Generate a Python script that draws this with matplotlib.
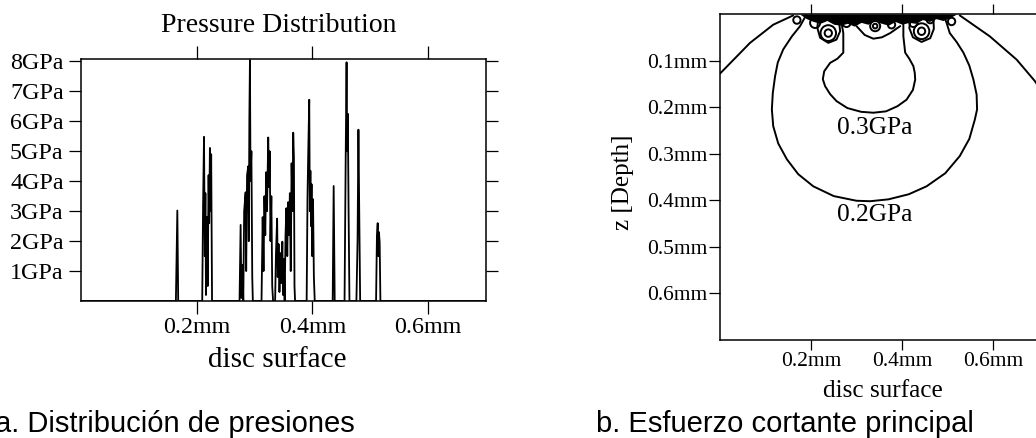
import matplotlib
matplotlib.use("Agg")
import matplotlib.pyplot as plt
from matplotlib.patches import Ellipse

# --- pressure profile along the disc surface (mm, GPa) ---
surf_x = [0.000, 0.164, 0.1665, 0.168,
          0.2095, 0.2110, 0.2126, 0.2140, 0.2150, 0.2160, 0.2175, 0.2190, 0.2205,
          0.2215, 0.2228, 0.2240, 0.2250, 0.2265,
          0.2740, 0.2759, 0.2772, 0.2790, 0.2805, 0.2820, 0.2845, 0.2855, 0.2870,
          0.2891, 0.2900, 0.2910, 0.2920, 0.2930, 0.2945, 0.2960, 0.2970,
          0.3120, 0.3140, 0.3155, 0.3170, 0.3185, 0.3200, 0.3215, 0.3236, 0.3250,
          0.3262, 0.3275, 0.3290, 0.3305, 0.3320,
          0.3355, 0.3370, 0.3390, 0.3400, 0.3415, 0.3430, 0.3448, 0.3465, 0.3480,
          0.3492, 0.3505, 0.3520, 0.3535, 0.3550, 0.3565, 0.3580, 0.3595, 0.3610,
          0.3625, 0.3640, 0.3655, 0.3668, 0.3680, 0.3690, 0.3700,
          0.3900, 0.3915, 0.3930, 0.3945, 0.3955, 0.3965, 0.3975, 0.3985, 0.3995,
          0.4010, 0.4025, 0.4040,
          0.4350, 0.4367, 0.4385,
          0.4555, 0.4575, 0.4590, 0.4600, 0.4612, 0.4625, 0.4640,
          0.4760, 0.4780, 0.4795, 0.4810, 0.4825,
          0.5100, 0.5115, 0.5128, 0.5140, 0.5150, 0.5162, 0.5175, 0.700]
pressure = [0.0, 0.0, 3.02, 0.0,
            0.0, 3.2, 5.48, 1.5, 3.6, 0.2, 2.8, 0.5, 4.2,
            2.6, 5.11, 3.0, 4.9, 0.0,
            0.0, 2.54, 0.1, 1.2, 0.0, 3.0, 3.63, 1.0, 4.2,
            4.5, 2.0, 6.1, 8.05, 4.0, 5.0, 0.8, 0.0,
            0.0, 2.8, 1.0, 3.5, 2.2, 4.3, 3.0, 5.46, 3.8,
            5.0, 2.0, 3.5, 0.5, 0.0,
            0.0, 1.6, 2.75, 0.8, 1.9, 0.3, 1.6, 0.6, 1.98,
            0.2, 1.4, 0.0, 2.2, 3.1, 1.5, 3.3, 2.2, 3.6,
            1.0, 4.6, 3.0, 5.62, 4.8, 0.5, 0.0,
            0.0, 3.5, 5.2, 6.72, 3.0, 4.35, 2.5, 3.9, 1.5,
            3.4, 0.8, 0.0,
            0.0, 3.84, 0.0,
            0.0, 4.8, 7.97, 5.0, 6.25, 3.0, 0.0,
            0.0, 2.0, 5.72, 2.8, 0.0,
            0.0, 2.2, 2.6, 1.5, 2.3, 1.95, 0.0, 0.0]

p_ticks = [1, 2, 3, 4, 5, 6, 7, 8]
p_labels = ["1GPa", "2GPa", "3GPa", "4GPa", "5GPa", "6GPa", "7GPa", "8GPa"]
x_ticks = [0.2, 0.4, 0.6]
x_labels = ["0.2mm", "0.4mm", "0.6mm"]
z_ticks = [0.1, 0.2, 0.3, 0.4, 0.5, 0.6]
z_labels = ["0.1mm", "0.2mm", "0.3mm", "0.4mm", "0.5mm", "0.6mm"]

# --- principal shear stress contours (x mm, depth mm) ---
outer_left_x = [0.000, 0.066, 0.117, 0.161]
outer_left_z = [0.128, 0.062, 0.023, 0.003]
outer_right_x = [0.527, 0.593, 0.652, 0.692, 0.730]
outer_right_z = [0.003, 0.048, 0.098, 0.144, 0.200]

c02_x = [0.189, 0.176, 0.158, 0.139, 0.127, 0.121, 0.116, 0.114, 0.117, 0.128,
         0.147, 0.172, 0.205, 0.250, 0.300, 0.330, 0.370, 0.415, 0.454, 0.495,
         0.527, 0.548, 0.560, 0.565, 0.564, 0.557, 0.548, 0.535, 0.520, 0.505,
         0.498, 0.492]
c02_z = [0.003, 0.026, 0.048, 0.076, 0.104, 0.134, 0.170, 0.205, 0.241, 0.278,
         0.312, 0.344, 0.370, 0.391, 0.401, 0.402, 0.398, 0.387, 0.370, 0.342,
         0.305, 0.268, 0.227, 0.205, 0.173, 0.141, 0.111, 0.083, 0.060, 0.041,
         0.019, 0.003]

c03_x = [0.267, 0.271, 0.271, 0.258, 0.242, 0.229, 0.226, 0.231, 0.242, 0.256,
         0.280, 0.310, 0.337, 0.365, 0.390, 0.410, 0.424, 0.429, 0.428, 0.425,
         0.416, 0.407, 0.403, 0.403]
c03_z = [0.019, 0.041, 0.083, 0.096, 0.105, 0.123, 0.140, 0.155, 0.172, 0.187,
         0.202, 0.210, 0.212, 0.209, 0.198, 0.184, 0.163, 0.141, 0.126, 0.112,
         0.096, 0.083, 0.048, 0.023]

dip_x = [0.300, 0.318, 0.337, 0.356, 0.374, 0.396]
dip_z = [0.026, 0.045, 0.053, 0.050, 0.041, 0.026]

hookl_x = [0.216, 0.214, 0.220, 0.238, 0.256, 0.264, 0.262]
hookl_z = [0.008, 0.030, 0.051, 0.062, 0.055, 0.037, 0.019]
hookr_x = [0.420, 0.416, 0.424, 0.443, 0.462, 0.470, 0.469]
hookr_z = [0.006, 0.030, 0.050, 0.060, 0.052, 0.032, 0.010]

band_x = [0.175, 0.190, 0.205, 0.220, 0.235, 0.250, 0.265, 0.280, 0.295, 0.310,
          0.325, 0.340, 0.355, 0.370, 0.385, 0.400, 0.415, 0.430, 0.445, 0.460,
          0.475, 0.490, 0.505, 0.520]
band_z = [0.000, 0.010, 0.016, 0.020, 0.014, 0.022, 0.024, 0.020, 0.026, 0.018,
          0.022, 0.014, 0.020, 0.024, 0.016, 0.022, 0.018, 0.020, 0.012, 0.016,
          0.010, 0.014, 0.008, 0.000]

loop_x = [0.238, 0.238, 0.443, 0.443, 0.209, 0.169, 0.341, 0.341, 0.377, 0.509,
          0.278, 0.425, 0.462]
loop_z = [0.041, 0.041, 0.037, 0.037, 0.019, 0.013, 0.026, 0.026, 0.023, 0.016,
          0.019, 0.019, 0.012]
loop_r = [0.017, 0.008, 0.017, 0.008, 0.011, 0.008, 0.011, 0.005, 0.008, 0.008,
          0.009, 0.009, 0.008]

serif = "Liberation Serif"
W, H = 1036, 438
fig = plt.figure(figsize=(W / 100, H / 100), dpi=100)


def fx(px):
    return px / W


def fy(py):
    return 1 - py / H


# --- a. pressure distribution ---
ax1 = fig.add_axes([fx(81), fy(301), fx(486) - fx(81), fy(59) - fy(301)])
ax1.plot(surf_x, pressure, color="black", lw=1.3)
ax1.set_xlim(0, 0.7)
ax1.set_ylim(0, 8.08)
ax1.set_xticks(x_ticks)
ax1.set_xticklabels(x_labels, family=serif, fontsize=17.3)
ax1.set_yticks(p_ticks)
ax1.set_yticklabels(p_labels, family=serif, fontsize=17.3)
ax1.tick_params(axis="x", direction="out", length=9.5, width=0.9, top=True,
                labeltop=False, pad=2)
ax1.tick_params(axis="y", direction="out", length=8.5, width=0.9, right=True,
                labelright=False, pad=4)
for s in ax1.spines.values():
    s.set_linewidth(1.1)
fig.text(fx(279), fy(32), "Pressure Distribution", family=serif, fontsize=20,
         ha="center", va="baseline")
fig.text(fx(277), fy(366.7), "disc surface", family=serif, fontsize=21,
         ha="center", va="baseline")

# --- b. principal shear stress ---
ax2 = fig.add_axes([fx(720), fy(340), fx(1038.5) - fx(720), fy(14) - fy(340)])
ax2.set_xlim(0, 0.7)
ax2.set_ylim(0.7, 0)
ax2.fill_between(band_x, 0, band_z, color="black", lw=0)
lines = [(outer_left_x, outer_left_z), (outer_right_x, outer_right_z),
         (c02_x, c02_z), (c03_x, c03_z), (dip_x, dip_z),
         (hookl_x, hookl_z), (hookr_x, hookr_z)]
for xs, zs in lines:
    ax2.plot(xs, zs, color="black", lw=1.4, solid_capstyle="round",
             solid_joinstyle="round")
for cx, cz, r in zip(loop_x, loop_z, loop_r):
    ax2.add_patch(Ellipse((cx, cz), 2 * r, 2 * r, fill=False, ec="black", lw=1.4))
ax2.text(0.341, 0.244, "0.3GPa", family=serif, fontsize=18.4, ha="center", va="center")
ax2.text(0.341, 0.432, "0.2GPa", family=serif, fontsize=18.4, ha="center", va="center")
ax2.set_xticks(x_ticks)
ax2.set_xticklabels(x_labels, family=serif, fontsize=15.5)
ax2.set_yticks(z_ticks)
ax2.set_yticklabels(z_labels, family=serif, fontsize=15.5)
ax2.tick_params(axis="x", direction="out", length=7, width=0.9, top=True,
                labeltop=False, pad=2)
ax2.tick_params(axis="y", direction="out", length=8, width=0.9, pad=1)
for s in ax2.spines.values():
    s.set_linewidth(1.1)
fig.text(fx(623), fy(182), "z [Depth]", family=serif, fontsize=18, rotation=90,
         ha="center", va="center")
fig.text(fx(882.7), fy(396.7), "disc surface", family=serif, fontsize=18.2,
         ha="center", va="baseline")

# --- captions (the "a" is cut at the left edge, as in the original) ---
fig.text(fx(-5), fy(432.5), "a. Distribución de presiones", family="Liberation Sans",
         fontsize=21, ha="left", va="baseline")
fig.text(fx(596), fy(432.5), "b. Esfuerzo cortante principal", family="Liberation Sans",
         fontsize=21, ha="left", va="baseline")

fig.savefig("out.png", dpi=100)
